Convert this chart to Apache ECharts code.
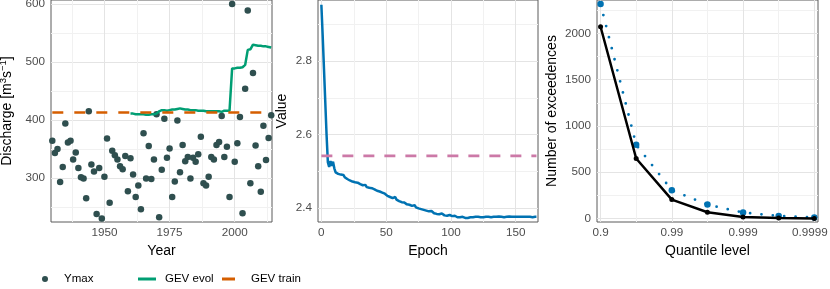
<!DOCTYPE html>
<html><head><meta charset="utf-8">
<script src="https://cdn.jsdelivr.net/npm/echarts@6/dist/echarts.min.js"></script>
<style>html,body{margin:0;padding:0;background:#fff}#c{width:830px;height:289px}</style>
</head><body><div id="c"></div>
<script>
// ---- Panel 1: annual maxima ----
const years = [1930,1931,1932,1933,1934,1935,1936,1937,1938,1939,1940,1941,1942,1943,1944,1945,1946,1947,1948,1949,
1950,1951,1952,1953,1954,1955,1956,1957,1958,1959,1960,1961,1962,1963,1964,1965,1966,1967,1968,1969,
1970,1971,1972,1973,1974,1975,1976,1977,1978,1979,1980,1981,1982,1983,1984,1985,1986,1987,1988,1989,
1990,1991,1992,1993,1994,1995,1996,1997,1998,1999,2000,2001,2002,2003,2004,2005,2006,2007,2008,2009,
2010,2011,2012,2013,2014];
const ymax = [364,343,350,293,319,394,361,364,332,344,317,301,299,265,415,323,311,238,317,230,
302,368,257,347,339,332,320,315,338,277,334,306,267,287,246,377,299,355,298,332,
410,232,314,402,335,351,267,294,399,310,357,329,336,299,335,328,341,371,291,287,
302,336,332,357,362,407,336,354,267,600,328,360,405,239,454,589,291,481,356,320,
276,390,331,369,408];
const evolYears = [1960,1961,1962,1963,1964,1965,1966,1967,1968,1969,1970,1971,1972,1973,1974,1975,1976,1977,1978,1979,
1980,1981,1982,1983,1984,1985,1986,1987,1988,1989,1990,1991,1992,1993,1994,1995,1996,1997,1998,1999,
2000,2001,2002,2003,2004,2005,2006,2007,2008,2009,2010,2011,2012,2013,2014];
const gevEvol = [411,411,410,410,410,410,409,409,410,410,411,415,417,417,416,417,418,418,419,420,
419,418,418,417,417,417,416,416,416,415,415,415,415,415,415,414,416,416,416,489,
489,490,490,491,495,521,522,530,529,528,528,527,527,526,525];
const gevTrain = 413;
const p1YTicks = [300,400,500,600];
const p1XTicks = [1950,1975,2000];

// ---- Panel 2: training loss ----
const loss = [
2.953,2.87,2.78,2.69,2.60,2.525,2.512,2.528,2.515,2.526,
2.508,2.497,2.492,2.493,2.490,2.491,2.488,2.490,2.484,2.482,
2.479,2.478,2.475,2.474,2.472,2.471,2.470,2.468,2.469,2.466,
2.465,2.466,2.462,2.461,2.463,2.457,2.458,2.455,2.452,2.454,
2.449,2.451,2.446,2.447,2.443,2.445,2.440,2.442,2.437,2.439,
2.436,2.433,2.435,2.430,2.432,2.427,2.425,2.430,2.423,2.421,
2.419,2.420,2.416,2.414,2.415,2.412,2.410,2.411,2.409,2.410,
2.406,2.404,2.408,2.402,2.403,2.399,2.401,2.397,2.398,2.395,
2.396,2.393,2.395,2.391,2.390,2.392,2.388,2.386,2.389,2.384,
2.386,2.383,2.382,2.385,2.381,2.380,2.383,2.379,2.378,2.381,
2.377,2.378,2.376,2.379,2.376,2.375,2.377,2.375,2.374,2.376,
2.374,2.373,2.374,2.373,2.374,2.375,2.374,2.375,2.376,2.376,
2.377,2.376,2.375,2.375,2.376,2.375,2.375,2.376,2.377,2.376,
2.376,2.375,2.376,2.376,2.375,2.376,2.376,2.377,2.376,2.376,
2.376,2.375,2.376,2.376,2.376,2.377,2.376,2.376,2.375,2.376,
2.376,2.376,2.377,2.376,2.376,2.376,2.375,2.376,2.376,2.376,
2.377,2.376,2.376,2.375,2.376,2.376,2.376];
const epochs = loss.map((_, i) => i);
const baselineLoss = 2.542;
const p2XTicks = [0,50,100,150];
const p2YTicks = [2.4,2.6,2.8];

// ---- Panel 3: exceedences ----
const qLevels = [0.9, 0.968377, 0.99, 0.996838, 0.999, 0.999684, 0.9999];
const expectedExc = [2317, 796, 306, 151, 65, 29, 11];
const observedExc = [2071, 649, 205, 68, 18, 5, 2];
const qTickLabels = ['0.9','0.99','0.999','0.9999'];
const p3YTicks = [0,500,1000,1500,2000];

const qX = qLevels.map(p => -Math.log10(1 - p));

const FONT = 'Liberation Sans, Arial, sans-serif';
const LBL = {color:'#4d4d4d', fontSize:11.7, fontFamily:FONT};
const NAME = {color:'#000', fontSize:14, fontFamily:FONT};

function axisPair(dim, gi, min, max, majors, minors, fmt, name, nameGap, nameExtra, labelExtra) {
  const major = {
    type:'value', gridIndex:gi, min:min, max:max,
    axisLine:{show:false}, axisTick:{show:false, customValues:majors},
    axisLabel:Object.assign({customValues:majors, margin:6, formatter:fmt}, LBL, labelExtra || {}),
    splitLine:{show:true, lineStyle:{color:'#e4e4e4', width:1}},
    name:name, nameLocation:'middle', nameGap:nameGap,
    nameTextStyle:Object.assign({}, NAME, nameExtra || {})
  };
  if (dim === 'x') major.axisLabel.margin = 5;
  const minor = {
    type:'value', gridIndex:gi, min:min, max:max,
    axisLine:{show:false}, axisTick:{show:false, customValues:minors},
    axisLabel:{show:false, customValues:minors},
    splitLine:{show:true, lineStyle:{color:'#f1f1f1', width:1}}
  };
  return [major, minor];
}

const qFmt = v => {
  const k = Math.round(v) - 1;
  return k === qTickLabels.length - 1 ? '{last|' + qTickLabels[k] + '}' : qTickLabels[k];
};

const xAxes = [].concat(
  axisPair('x', 0, 1929.5, 2014.3, p1XTicks, [1937.5,1962.5,1987.5,2012.5], v => String(v), 'Year', 19),
  axisPair('x', 1, -2.6, 167.2, p2XTicks, [25,75,125], v => String(v), 'Epoch', 19),
  axisPair('x', 2, 0.95, 4.052, [1,2,3,4], [1.5,2.5,3.5], qFmt, 'Quantile level', 19, null,
    {rich:{last:{fontSize:11.7, color:'#4d4d4d', fontFamily:FONT, padding:[0,9,0,0]}}})
);
const yAxes = [].concat(
  axisPair('y', 0, 224, 607, p1YTicks, [250,350,450,550], v => String(v),
    'Discharge [m{sup|3}s{sup|\u22121}]', 34,
    {rich:{sup:{fontSize:9.5, lineHeight:19, verticalAlign:'top', fontFamily:FONT, color:'#000'}}}),
  axisPair('y', 1, 2.362, 2.966, p2YTicks, [2.5,2.7,2.9], v => v.toFixed(1), 'Value', 29),
  axisPair('y', 2, -37, 2360, p3YTicks, [250,750,1250,1750,2250], v => String(v), 'Number of exceedences', 38)
);

const gridBase = {top:0, height:222, show:true, borderColor:'#5a5a5a', borderWidth:1,
  containLabel:false, outerBoundsMode:'none'};

const option = {
  animation:false,
  backgroundColor:'#fff',
  textStyle:{fontFamily:FONT},
  grid:[
    Object.assign({left:51, width:221}, gridBase),
    Object.assign({left:318, width:220}, gridBase),
    Object.assign({left:597, width:221}, gridBase)
  ],
  xAxis:xAxes,
  yAxis:yAxes,
  legend:[
    {data:[{name:'Ymax', icon:'circle'}], left:37, top:268, itemWidth:20, itemHeight:6, selectedMode:false,
     textStyle:{fontSize:11.5, color:'#000', fontFamily:FONT, padding:[0,0,0,4]}},
    {data:[{name:'GEV evol', icon:'rect'}], left:133, top:268, itemWidth:18, itemHeight:3, selectedMode:false,
     textStyle:{fontSize:11.5, color:'#000', fontFamily:FONT, padding:[0,0,0,4]}},
    {data:[{name:'GEV train', icon:'rect'}], left:217, top:268, itemWidth:13, itemHeight:3, selectedMode:false,
     textStyle:{fontSize:11.5, color:'#000', fontFamily:FONT, padding:[0,0,0,11]}}
  ],
  series:[
    {name:'Ymax', type:'scatter', xAxisIndex:0, yAxisIndex:0, symbolSize:6.5,
     itemStyle:{color:'#2F4F4F', opacity:1}, data:years.map((y,i)=>[y, ymax[i]]), z:2},
    {name:'GEV evol', type:'line', xAxisIndex:0, yAxisIndex:0, symbol:'none', color:'#009E73',
     lineStyle:{color:'#009E73', width:2.5}, data:evolYears.map((y,i)=>[y, gevEvol[i]]), z:3},
    {name:'GEV train', type:'line', xAxisIndex:0, yAxisIndex:0, symbol:'none', color:'#D55E00',
     lineStyle:{color:'#D55E00', width:2.6, type:[11,11]},
     data:[[years[0], gevTrain],[years[years.length-1], gevTrain]], z:4},
    {name:'loss', type:'line', xAxisIndex:2, yAxisIndex:2, symbol:'none',
     lineStyle:{color:'#0072B2', width:2.5}, data:epochs.map((e,i)=>[e, loss[i]]), z:3},
    {name:'baseline', type:'line', xAxisIndex:2, yAxisIndex:2, symbol:'none',
     lineStyle:{color:'#CC79A7', width:2.6, type:[11,10]},
     data:[[epochs[0], baselineLoss],[epochs[epochs.length-1], baselineLoss]], z:4},
    {name:'expected', type:'line', xAxisIndex:4, yAxisIndex:4, symbol:'circle', symbolSize:6.5, showSymbol:true,
     itemStyle:{color:'#0072B2'}, lineStyle:{color:'#0072B2', width:2.8, type:[0,11.4], cap:'round'},
     data:qX.map((x,i)=>[x, expectedExc[i]]), z:3},
    {name:'observed', type:'line', xAxisIndex:4, yAxisIndex:4, symbol:'circle', symbolSize:5, showSymbol:true,
     itemStyle:{color:'#000'}, lineStyle:{color:'#000', width:2.5},
     data:qX.map((x,i)=>[x, observedExc[i]]), z:4}
  ]
};
const chart = echarts.init(document.getElementById('c'), null, {renderer:'canvas'});
chart.setOption(option);
</script>
</body></html>
